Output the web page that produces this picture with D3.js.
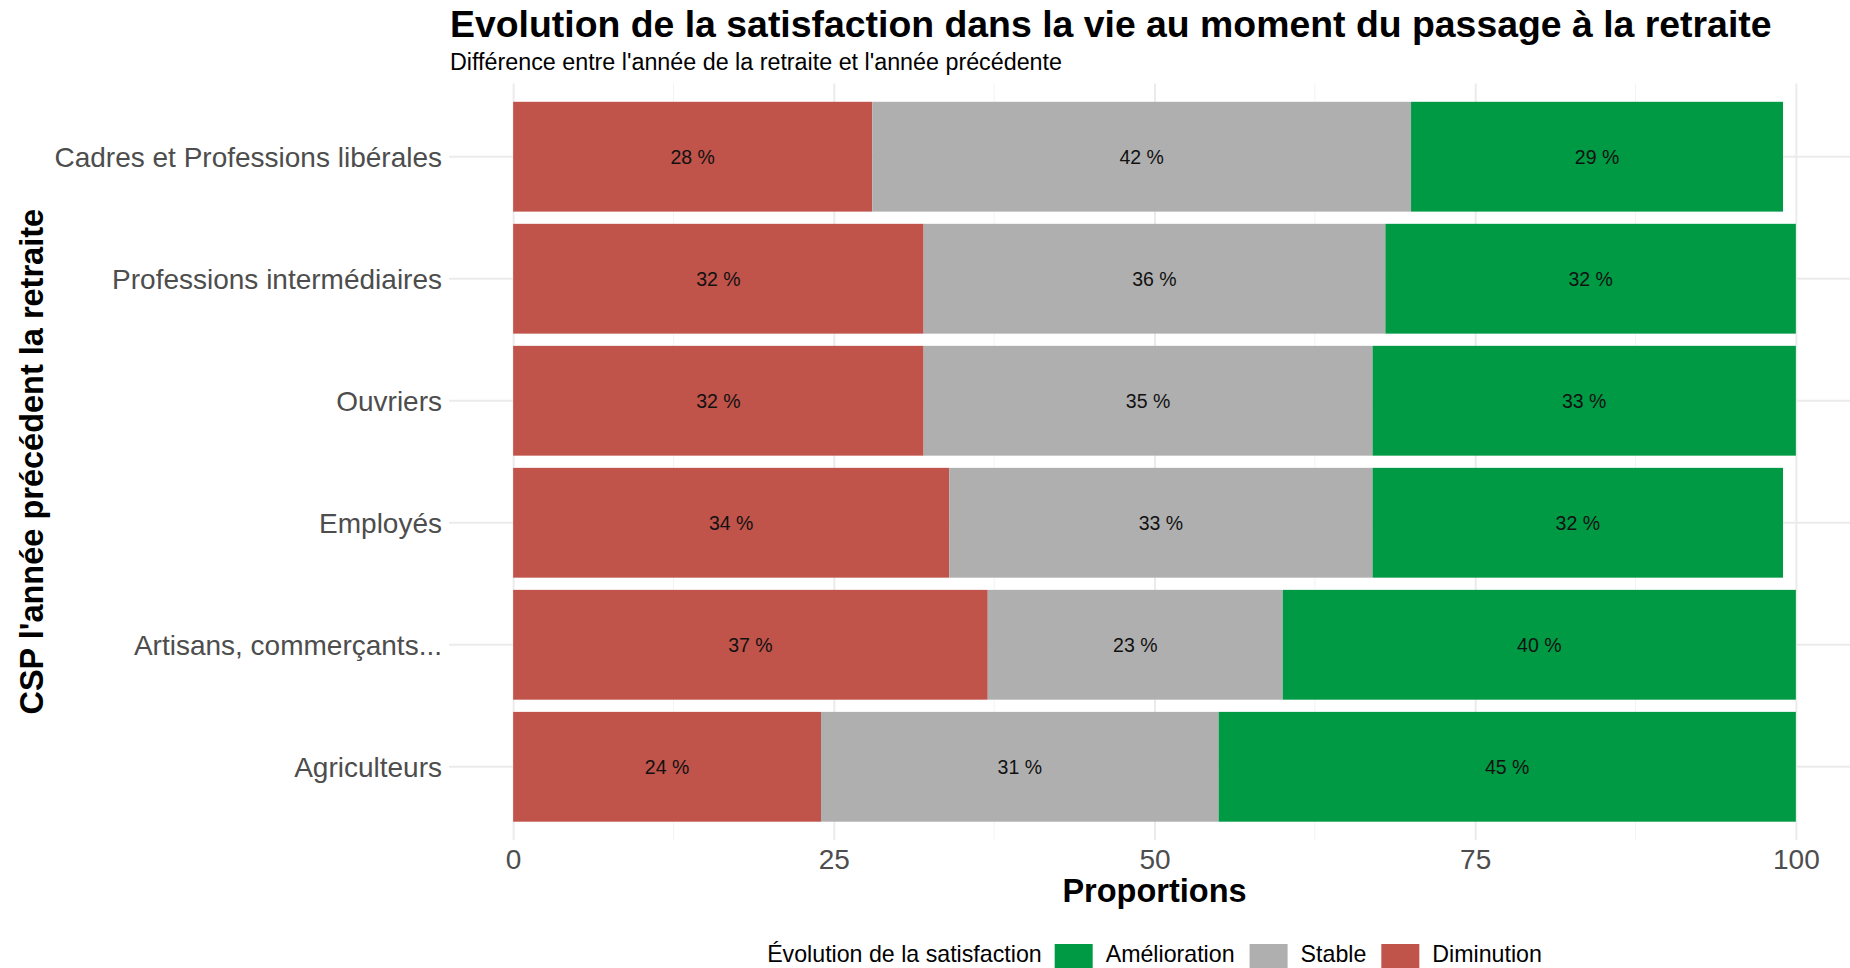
<!DOCTYPE html>
<html>
<head>
<meta charset="utf-8">
<script src="https://cdn.jsdelivr.net/npm/d3@7"></script>
<style>
  body { margin: 0; background: #fff; }
  svg { display: block; font-family: "Liberation Sans", Arial, sans-serif; }
  .grid line { stroke: #ebebeb; }
  .grid .domain { display: none; }
  .axis .domain { display: none; }
  .axis text { fill: #4d4d4d; font-size: 28px; }
</style>
</head>
<body>
<div class="chart"></div>
<script>
// DATA ---------------------------------------------------------------
const categories = ['Cadres et Professions libérales', 'Professions intermédiaires', 'Ouvriers',
                    'Employés', 'Artisans, commerçants...', 'Agriculteurs'];
const diminution   = [28, 32, 32, 34, 37, 24];
const stable       = [42, 36, 35, 33, 23, 31];
const amelioration = [29, 32, 33, 32, 40, 45];
const xTicks = [0, 25, 50, 75, 100];
const xMinorTicks = [12.5, 37.5, 62.5, 87.5];

const keys = ['Diminution', 'Stable', 'Amélioration'];
const legendOrder = ['Amélioration', 'Stable', 'Diminution'];
const colors = {'Diminution': '#c0534a', 'Stable': '#afafaf', 'Amélioration': '#009a44'};

const data = categories.map((c, i) => ({
    cat: c,
    'Diminution': diminution[i],
    'Stable': stable[i],
    'Amélioration': amelioration[i]
}));

// CHART INIT ---------------------------------------------------------
const W = 1850, H = 968;
const panel = {left: 449, right: 1860, top: 83.5, bottom: 840};

const svg = d3.select('.chart')
    .append('svg')
    .attr('width', W)
    .attr('height', H);

const xScale = d3.scaleLinear()
    .domain([-5, 105])
    .range([panel.left, panel.right]);

const yScale = d3.scaleBand()
    .domain(categories)
    .range([panel.top, panel.bottom])
    .paddingInner(0.1)
    .paddingOuter(0.15);

// grid (minor, then major)
svg.append('g')
    .selectAll('line')
    .data(xMinorTicks)
    .join('line')
    .attr('x1', d => xScale(d))
    .attr('x2', d => xScale(d))
    .attr('y1', panel.top)
    .attr('y2', panel.bottom)
    .attr('stroke', '#f3f3f3')
    .attr('stroke-width', 1);

svg.append('g')
    .attr('class', 'grid')
    .attr('transform', 'translate(0,' + panel.bottom + ')')
    .call(d3.axisBottom(xScale).tickValues(xTicks).tickSize(-(panel.bottom - panel.top)).tickFormat(''))
    .selectAll('line').attr('stroke-width', 2);

svg.append('g')
    .attr('class', 'grid')
    .attr('transform', 'translate(' + panel.left + ',0)')
    .call(d3.axisLeft(yScale).tickSize(-(panel.right - panel.left)).tickFormat(''))
    .selectAll('line').attr('stroke-width', 2);

// bars
const series = d3.stack().keys(keys)(data);

const layers = svg.append('g')
    .selectAll('g')
    .data(series)
    .join('g')
    .attr('fill', d => colors[d.key]);

layers.selectAll('rect')
    .data(d => d)
    .join('rect')
    .attr('x', d => xScale(d[0]))
    .attr('y', d => yScale(d.data.cat))
    .attr('width', d => xScale(d[1]) - xScale(d[0]))
    .attr('height', yScale.bandwidth());

layers.selectAll('text')
    .data(d => d.map(v => Object.assign({}, v, {key: d.key})))
    .join('text')
    .attr('x', d => xScale((d[0] + d[1]) / 2))
    .attr('y', d => yScale(d.data.cat) + yScale.bandwidth() / 2)
    .attr('dy', '0.35em')
    .attr('text-anchor', 'middle')
    .attr('fill', '#111')
    .style('font-size', '19.5px')
    .text(d => d.data[d.key] + ' %');

// axes
svg.append('g')
    .attr('class', 'axis y-axis')
    .attr('transform', 'translate(' + (panel.left - 7) + ',0)')
    .call(d3.axisLeft(yScale).tickSize(0).tickPadding(0))
    .selectAll('text').attr('dy', '0.35em');

svg.append('g')
    .attr('class', 'axis x-axis')
    .attr('transform', 'translate(0,' + (panel.bottom + 8) + ')')
    .call(d3.axisBottom(xScale).tickValues(xTicks).tickSize(0).tickPadding(0))
    .selectAll('text').attr('dy', '0.75em');

// titles
svg.append('text')
    .attr('x', 450)
    .attr('y', 37)
    .style('font-size', '37.4px')
    .style('font-weight', 'bold')
    .text('Evolution de la satisfaction dans la vie au moment du passage à la retraite');

svg.append('text')
    .attr('x', 450)
    .attr('y', 70)
    .style('font-size', '23.3px')
    .text('Différence entre l\'année de la retraite et l\'année précédente');

svg.append('text')
    .attr('x', (panel.left + panel.right) / 2)
    .attr('y', 902)
    .attr('text-anchor', 'middle')
    .style('font-size', '32.5px')
    .style('font-weight', 'bold')
    .text('Proportions');

svg.append('text')
    .attr('transform', 'translate(43,' + ((panel.top + panel.bottom) / 2) + ') rotate(-90)')
    .attr('text-anchor', 'middle')
    .style('font-size', '32.5px')
    .style('font-weight', 'bold')
    .text('CSP l\'année précédent la retraite');

// legend
const legend = svg.append('g');
const legendY = 962;
let cx = 0;
const ltitle = legend.append('text')
    .attr('x', 0)
    .attr('y', legendY)
    .style('font-size', '23.2px')
    .text('Évolution de la satisfaction');
cx = ltitle.node().getComputedTextLength() + 13;

legendOrder.forEach(k => {
    legend.append('rect')
        .attr('x', cx)
        .attr('y', 944)
        .attr('width', 38)
        .attr('height', 38)
        .attr('fill', colors[k]);
    cx += 38 + 13;
    const t = legend.append('text')
        .attr('x', cx)
        .attr('y', legendY)
        .style('font-size', '23.2px')
        .text(k);
    cx += t.node().getComputedTextLength() + 15;
});
cx -= 15;
legend.attr('transform', 'translate(' + ((panel.left + panel.right) / 2 - cx / 2) + ',0)');
</script>
</body>
</html>
